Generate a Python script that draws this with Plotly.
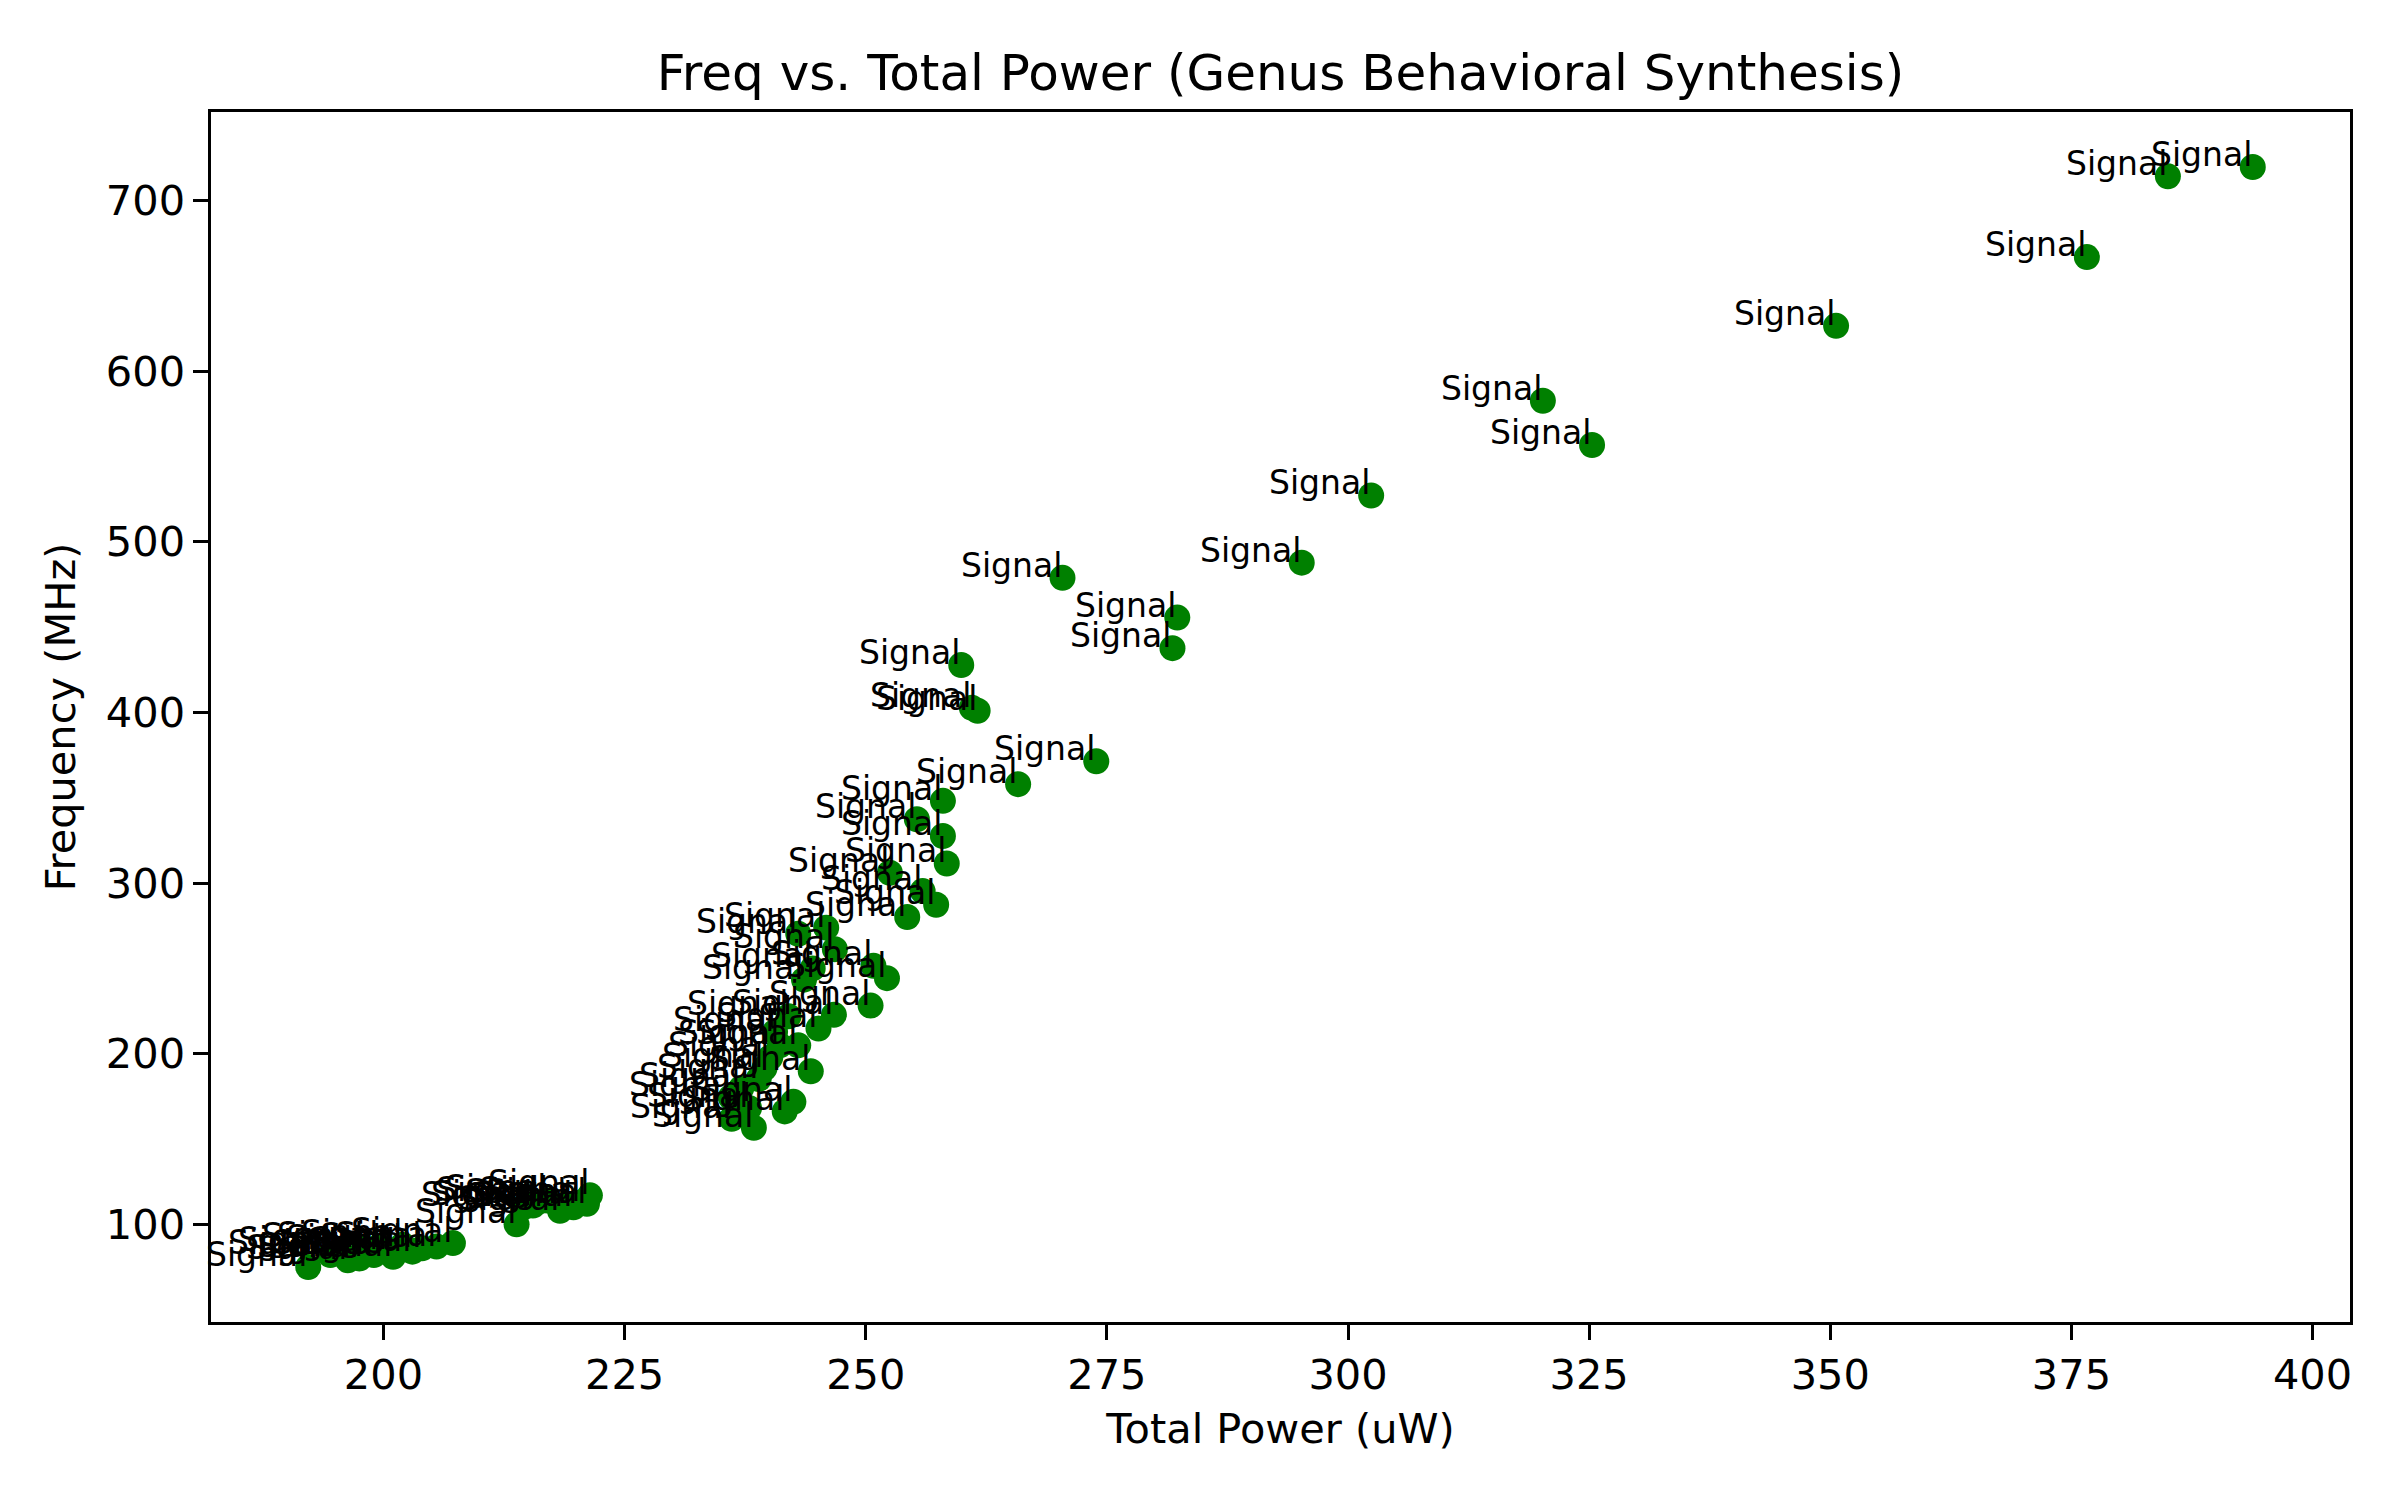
import plotly.graph_objects as go

# Data
total_power_uw = [
    393.8, 385.0, 376.6, 350.6, 320.2, 325.3, 302.4, 295.2, 270.4, 282.3,
    281.8, 259.9, 261.0, 261.6, 273.9, 265.8, 258.0, 255.3, 258.0, 258.4,
    252.5, 255.9, 257.3, 254.3,
    245.9, 243.0, 246.8, 250.8, 252.2, 243.6, 244.5, 250.5, 246.7, 245.1,
    242.0, 240.6, 243.0, 241.1, 240.1, 244.3, 239.5, 238.9, 242.5, 237.1,
    236.0, 237.9, 241.6, 238.4, 236.1,
    213.8, 214.5, 215.5, 216.0, 217.0, 218.3, 219.0, 219.7, 220.5, 221.1, 221.4,
    192.2, 194.5, 195.5, 196.3, 197.5, 198.0, 199.0, 199.5, 200.5, 201.0,
    202.0, 203.0, 204.0, 205.5, 207.2,
]
frequency_mhz = [
    719.7, 714.3, 666.9, 626.6, 582.7, 556.8, 527.2, 487.8, 478.9, 455.6,
    437.7, 427.8, 402.8, 401.0, 371.4, 358.0, 348.2, 337.4, 327.6, 311.5,
    306.1, 295.3, 287.3, 280.1,
    273.9, 270.3, 261.3, 251.5, 244.3, 243.4, 250.0, 228.2, 222.8, 214.8,
    221.9, 212.9, 204.9, 204.9, 197.8, 189.7, 191.5, 185.2, 171.8, 179.9,
    174.5, 168.2, 166.2, 156.6, 161.9,
    100.0, 110.0, 111.0, 113.0, 114.0, 108.0, 112.0, 110.0, 113.0, 112.0, 117.0,
    75.0, 82.0, 84.0, 79.0, 80.0, 86.0, 82.0, 87.0, 85.0, 81.0,
    88.0, 84.0, 86.0, 87.0, 89.0,
]
point_labels = ["Signal"] * len(total_power_uw)

x_ticks = [200, 225, 250, 275, 300, 325, 350, 375, 400]
y_ticks = [100, 200, 300, 400, 500, 600, 700]

FONT = "DejaVu Sans"
W, H = 2392, 1492
ML, MR, MT, MB = 203, 50, 104, 178

fig = go.Figure()
fig.add_trace(go.Scatter(
    x=total_power_uw, y=frequency_mhz, mode="markers",
    marker=dict(color="#008000", size=26, line=dict(width=0)),
    showlegend=False, hoverinfo="skip",
))

annotations = []
for xv, yv, lab in zip(total_power_uw, frequency_mhz, point_labels):
    annotations.append(dict(
        x=xv, y=yv, xref="x", yref="y", text=lab, showarrow=False,
        xanchor="right", yanchor="bottom", borderpad=0, yshift=-8,
        font=dict(family=FONT, size=33, color="black"),
    ))

pad_x = (max(total_power_uw) - min(total_power_uw)) * 0.05
pad_y = (max(frequency_mhz) - min(frequency_mhz)) * 0.05

axis_common = dict(
    showline=True, linecolor="black", linewidth=3.3, mirror=True,
    ticks="outside", ticklen=14.5, tickwidth=3.3, tickcolor="black",
    showgrid=False, zeroline=False,
    tickfont=dict(family=FONT, size=41.5, color="black"),
)

fig.update_layout(
    width=W, height=H,
    paper_bgcolor="white", plot_bgcolor="white",
    margin=dict(l=ML, r=MR, t=MT, b=MB),
    title=dict(
        text="Freq vs. Total Power (Genus Behavioral Synthesis)",
        x=(ML + (W - MR)) / 2 / W, xanchor="center",
        y=1 - 64 / H, yanchor="middle",
        font=dict(family=FONT, size=50, color="black"),
    ),
    xaxis=dict(
        range=[min(total_power_uw) - pad_x, max(total_power_uw) + pad_x],
        tickvals=x_ticks, ticktext=[str(v) for v in x_ticks],
        title=dict(text="Total Power (uW)", standoff=16,
                   font=dict(family=FONT, size=41.5, color="black")),
        **axis_common,
    ),
    yaxis=dict(
        range=[min(frequency_mhz) - pad_y, max(frequency_mhz) + pad_y],
        tickvals=y_ticks, ticktext=[str(v) for v in y_ticks],
        title=dict(text="Frequency (MHz)", standoff=18,
                   font=dict(family=FONT, size=41.5, color="black")),
        **axis_common,
    ),
    annotations=annotations,
)

fig.write_html("out.html")
